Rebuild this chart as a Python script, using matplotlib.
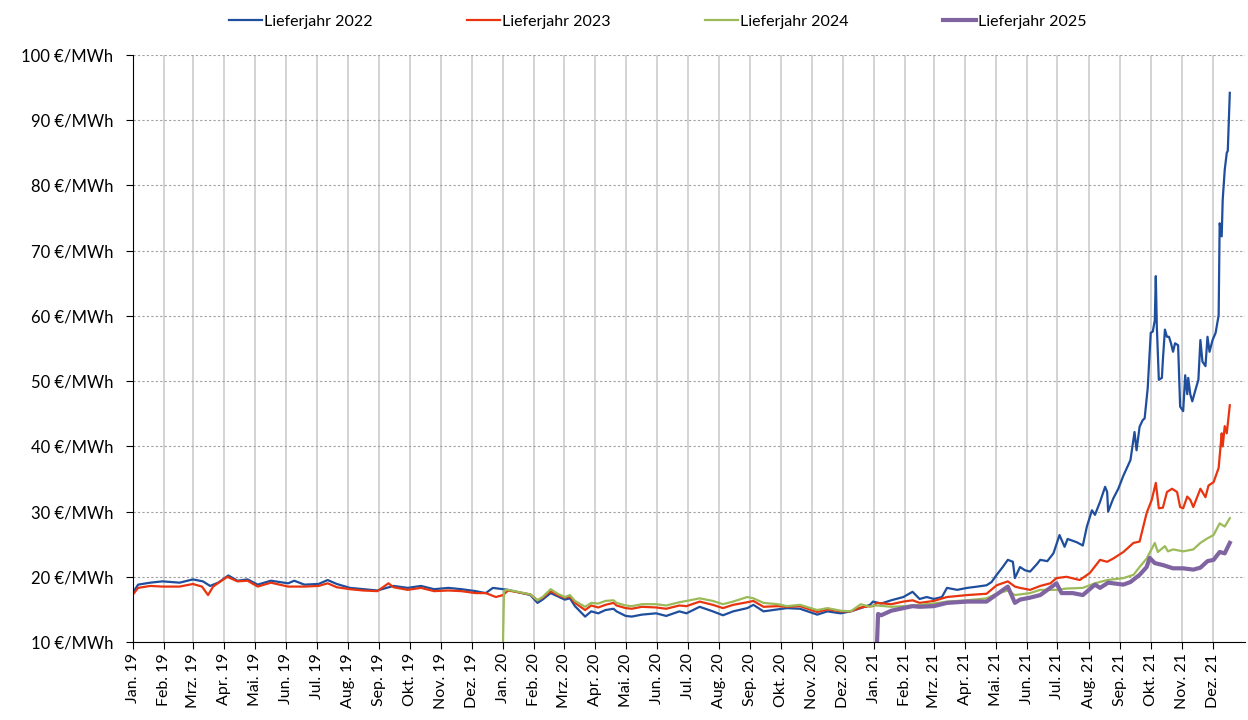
import matplotlib
matplotlib.use("Agg")
import matplotlib.pyplot as plt
import pandas as pd

# ---------------- data ----------------
dates_2022 = ["2019-01-01","2019-01-06","2019-01-18","2019-01-30","2019-02-16","2019-03-01","2019-03-11","2019-03-18","2019-03-26","2019-04-05",
              "2019-04-14","2019-04-24","2019-05-04","2019-05-17","2019-06-03","2019-06-09","2019-06-19","2019-07-03","2019-07-12","2019-07-21",
              "2019-08-03","2019-08-16","2019-08-30","2019-09-15","2019-09-29","2019-10-12","2019-10-25","2019-11-08","2019-11-21","2019-12-05",
              "2019-12-15","2019-12-22",
              "2020-01-06","2020-01-28","2020-02-04","2020-02-09","2020-02-17","2020-02-24","2020-03-02","2020-03-07","2020-03-12","2020-03-22",
              "2020-03-28","2020-04-04","2020-04-11","2020-04-19","2020-04-22","2020-05-01","2020-05-07","2020-05-17","2020-05-31","2020-06-10",
              "2020-06-23","2020-06-30","2020-07-13","2020-07-26","2020-08-05","2020-08-15","2020-08-29","2020-09-04","2020-09-14","2020-09-28",
              "2020-10-07","2020-10-20","2020-11-06","2020-11-16","2020-11-29","2020-12-09","2020-12-19","2020-12-28","2020-12-31",
              "2021-01-08","2021-01-18","2021-01-30","2021-02-08","2021-02-15","2021-02-22","2021-03-01","2021-03-09","2021-03-14","2021-03-24",
              "2021-04-03","2021-04-13","2021-04-22","2021-04-27","2021-05-02","2021-05-08","2021-05-13","2021-05-18","2021-05-20","2021-05-25",
              "2021-05-30","2021-06-04","2021-06-11","2021-06-14","2021-06-21","2021-06-27","2021-07-03","2021-07-08","2021-07-11","2021-07-20",
              "2021-07-26","2021-07-30","2021-08-04","2021-08-07","2021-08-12","2021-08-17","2021-08-19","2021-08-20","2021-08-25","2021-08-30",
              "2021-09-04","2021-09-11","2021-09-15","2021-09-17","2021-09-20","2021-09-23","2021-09-25","2021-09-28","2021-10-01","2021-10-03",
              "2021-10-05","2021-10-06","2021-10-07","2021-10-09","2021-10-12","2021-10-13","2021-10-15","2021-10-17","2021-10-19","2021-10-21",
              "2021-10-23","2021-10-25","2021-10-28","2021-10-30","2021-11-02","2021-11-04","2021-11-06","2021-11-07","2021-11-09","2021-11-11",
              "2021-11-14","2021-11-17","2021-11-19","2021-11-21","2021-11-24","2021-11-26","2021-11-28","2021-12-01","2021-12-04","2021-12-07",
              "2021-12-08","2021-12-10","2021-12-11","2021-12-13","2021-12-15","2021-12-16","2021-12-18"]
values_2022 = [17.6,18.8,19.1,19.3,19.1,19.6,19.3,18.6,19.1,20.2,
               19.4,19.6,18.8,19.4,19.0,19.4,18.8,18.9,19.5,18.9,
               18.3,18.1,17.9,18.6,18.3,18.6,18.1,18.3,18.1,17.8,
               17.5,18.3,
               18.0,17.2,16.0,16.5,17.5,17.0,16.5,16.7,15.5,13.9,
               14.7,14.4,14.9,15.1,14.7,14.0,13.9,14.2,14.4,14.0,
               14.7,14.4,15.4,14.7,14.1,14.7,15.2,15.7,14.7,15.0,
               15.2,15.1,14.2,14.7,14.4,14.7,15.2,15.7,16.2,
               15.9,16.4,16.9,17.7,16.6,16.9,16.6,16.9,18.3,18.0,
               18.3,18.5,18.7,19.2,20.3,21.5,22.6,22.3,19.8,21.5,
               21.0,20.8,22.0,22.6,22.4,23.6,26.4,24.6,25.8,25.3,
               24.8,27.7,30.2,29.5,31.5,33.8,33.0,30.0,32.0,33.5,
               35.5,37.9,42.2,39.4,43.0,44.0,44.3,48.9,57.4,57.6,
               59.3,66.1,58.4,50.2,50.5,53.3,57.9,56.8,56.8,55.8,
               54.5,55.8,55.5,46.1,45.4,50.9,48.0,50.5,48.0,46.9,
               48.6,50.2,56.3,53.0,52.3,56.8,54.5,56.3,57.4,60.1,
               74.2,72.2,77.8,82.4,85.0,85.3,94.2]

dates_2023 = ["2019-01-01","2019-01-06","2019-01-18","2019-01-30","2019-02-16","2019-03-01","2019-03-10","2019-03-16","2019-03-21","2019-04-04",
              "2019-04-14","2019-04-24","2019-05-04","2019-05-17","2019-06-03","2019-06-19","2019-07-03","2019-07-12","2019-07-21","2019-08-03",
              "2019-08-16","2019-08-30","2019-09-10","2019-09-15","2019-09-29","2019-10-12","2019-10-25","2019-11-08","2019-11-21","2019-12-05",
              "2019-12-15","2019-12-25",
              "2020-01-01","2020-01-06","2020-01-28","2020-02-04","2020-02-09","2020-02-17","2020-02-24","2020-03-02","2020-03-07","2020-03-12",
              "2020-03-22","2020-03-28","2020-04-04","2020-04-11","2020-04-19","2020-04-22","2020-05-01","2020-05-07","2020-05-17","2020-05-31",
              "2020-06-10","2020-06-23","2020-06-30","2020-07-13","2020-07-26","2020-08-05","2020-08-15","2020-08-29","2020-09-04","2020-09-14",
              "2020-09-28","2020-10-07","2020-10-20","2020-11-06","2020-11-16","2020-11-29","2020-12-09","2020-12-19","2020-12-28","2020-12-31",
              "2021-01-04","2021-01-18","2021-01-30","2021-02-08","2021-02-15","2021-03-01","2021-03-14","2021-04-03","2021-04-22","2021-05-02",
              "2021-05-13","2021-05-20","2021-05-25","2021-06-04","2021-06-14","2021-06-24","2021-06-30","2021-07-10","2021-07-23","2021-08-02",
              "2021-08-12","2021-08-19","2021-08-25","2021-09-04","2021-09-14","2021-09-20","2021-09-27","2021-10-02","2021-10-06","2021-10-09",
              "2021-10-13","2021-10-17","2021-10-22","2021-10-27","2021-10-30","2021-11-02","2021-11-06","2021-11-09","2021-11-12","2021-11-19",
              "2021-11-24","2021-11-27","2021-12-02","2021-12-07","2021-12-10","2021-12-11","2021-12-13","2021-12-15","2021-12-18"]
values_2023 = [17.3,18.3,18.6,18.5,18.5,18.9,18.5,17.2,18.5,20.0,
               19.3,19.4,18.5,19.1,18.5,18.5,18.6,19.0,18.4,18.1,
               17.9,17.8,19.0,18.4,18.0,18.3,17.8,17.9,17.8,17.5,
               17.5,16.9,
               17.2,17.9,17.3,16.4,16.8,17.8,17.2,16.8,17.0,16.0,
               14.9,15.6,15.3,15.7,16.0,15.6,15.2,15.1,15.4,15.3,
               15.1,15.6,15.5,16.2,15.7,15.2,15.7,16.1,16.3,15.4,
               15.5,15.4,15.5,14.6,15.0,14.7,14.7,15.3,15.5,15.5,
               16.0,15.8,16.2,16.4,16.0,16.3,16.9,17.2,17.4,18.7,
               19.3,18.5,18.3,18.0,18.6,19.0,19.8,20.0,19.5,20.6,
               22.6,22.3,22.8,23.8,25.2,25.4,29.8,31.8,34.4,30.5,
               30.6,33.0,33.5,33.0,30.7,30.5,32.3,31.8,30.7,33.5,
               32.2,34.0,34.5,36.7,42.0,40.0,43.1,42.0,46.3]

dates_2024 = ["2020-01-01","2020-01-02","2020-01-06","2020-01-28","2020-02-04","2020-02-09","2020-02-17","2020-02-24","2020-03-02","2020-03-07",
              "2020-03-12","2020-03-22","2020-03-28","2020-04-04","2020-04-11","2020-04-19","2020-04-22","2020-05-01","2020-05-07","2020-05-17",
              "2020-05-31","2020-06-10","2020-06-23","2020-06-30","2020-07-13","2020-07-26","2020-08-05","2020-08-15","2020-08-29","2020-09-04",
              "2020-09-14","2020-09-28","2020-10-07","2020-10-20","2020-11-06","2020-11-16","2020-11-29","2020-12-09","2020-12-19","2020-12-28",
              "2020-12-31",
              "2021-01-04","2021-01-18","2021-01-30","2021-02-08","2021-03-01","2021-03-14","2021-04-03","2021-04-22","2021-05-02","2021-05-13",
              "2021-05-20","2021-06-04","2021-06-14","2021-06-30","2021-07-10","2021-07-26","2021-08-07","2021-08-19","2021-09-04","2021-09-14",
              "2021-09-20","2021-09-27","2021-10-05","2021-10-08","2021-10-15","2021-10-18","2021-10-23","2021-11-02","2021-11-12","2021-11-19",
              "2021-11-26","2021-12-02","2021-12-08","2021-12-13","2021-12-18"]
values_2024 = [10.0,17.9,18.0,17.3,16.4,16.9,18.1,17.4,16.9,17.2,
               16.3,15.4,16.0,15.9,16.3,16.4,16.0,15.6,15.5,15.8,
               15.8,15.6,16.1,16.3,16.7,16.3,15.8,16.2,16.9,16.7,
               16.0,15.8,15.5,15.7,14.9,15.2,14.8,14.7,15.8,15.4,
               15.6,
               15.6,15.4,15.5,15.6,15.9,16.2,16.4,16.7,17.4,17.9,
               17.2,17.5,18.0,18.0,18.2,18.3,19.0,19.5,19.8,20.3,
               21.5,22.8,25.2,23.8,24.7,23.9,24.2,23.9,24.2,25.2,
               25.9,26.4,28.2,27.7,29.0]

dates_2025 = ["2021-01-04","2021-01-05","2021-01-08","2021-01-18","2021-01-30","2021-02-08","2021-02-15","2021-03-01","2021-03-14","2021-04-03",
              "2021-04-22","2021-05-02","2021-05-13","2021-05-20","2021-05-25","2021-06-04","2021-06-14","2021-06-30","2021-07-05","2021-07-16",
              "2021-07-26","2021-08-07","2021-08-12","2021-08-20","2021-09-04","2021-09-11","2021-09-20","2021-09-27","2021-09-30","2021-10-05",
              "2021-10-13","2021-10-23","2021-11-02","2021-11-12","2021-11-19","2021-11-26","2021-12-02","2021-12-08","2021-12-13","2021-12-18"]
values_2025 = [10.0,14.3,14.1,14.8,15.2,15.5,15.4,15.5,16.0,16.2,
               16.2,17.3,18.5,16.0,16.5,16.8,17.2,19.0,17.5,17.5,
               17.2,18.8,18.3,19.1,18.8,19.2,20.3,21.5,22.9,22.1,
               21.8,21.3,21.3,21.1,21.4,22.4,22.6,23.8,23.6,25.2]

series_labels = ["Lieferjahr 2022", "Lieferjahr 2023", "Lieferjahr 2024", "Lieferjahr 2025"]
month_names = ["Jan.", "Feb.", "Mrz.", "Apr.", "Mai.", "Jun.", "Jul.", "Aug.", "Sep.", "Okt.", "Nov.", "Dez."]
years = ["19", "20", "21"]
y_ticks = [10, 20, 30, 40, 50, 60, 70, 80, 90, 100]

# ---------------- plot ----------------
plt.rcParams['font.family'] = ['Lato', 'DejaVu Sans']

fig = plt.figure(figsize=(12.48, 7.2), dpi=100)
ax = fig.add_axes([0.1066, 0.1083, 0.8910, 0.8153])

colors = ["#1F4E9C", "#E8340F", "#9BBB59", "#8064A2"]
widths = [1.6, 1.6, 1.6, 3.0]
all_dates = [dates_2022, dates_2023, dates_2024, dates_2025]
all_vals = [values_2022, values_2023, values_2024, values_2025]
for d, v, c, w, lab in zip(all_dates, all_vals, colors, widths, series_labels):
    ax.plot(pd.to_datetime(d), v, color=c, lw=w, label=lab, solid_joinstyle='round')

# axes
ax.set_ylim(10, 100)
ax.set_yticks(y_ticks)
ax.set_yticklabels([f"{t} €/MWh" for t in y_ticks], fontsize=12)

month_starts = pd.date_range("2019-01-01", "2021-12-01", freq="MS")
ax.set_xticks(month_starts)
ax.set_xticklabels([f"{month_names[i % 12]} {years[i // 12]}" for i in range(len(month_starts))],
                   rotation=90, fontsize=11.5)
ax.set_xlim(pd.Timestamp("2019-01-01"), pd.Timestamp("2022-01-02"))

ax.grid(axis='x', color='#CCCCCC', lw=1.2, ls='-')
ax.grid(axis='y', color='#A0A0A0', lw=0.8, ls=(0, (2, 2)))
ax.set_axisbelow(True)
for s in ['top', 'right']:
    ax.spines[s].set_visible(False)
ax.spines['left'].set_color('black')
ax.spines['bottom'].set_color('black')
ax.tick_params(axis='y', direction='out', length=5, color='black', pad=9)
ax.tick_params(axis='x', direction='out', length=5, color='black', pad=3)

fig.legend(loc='upper center', bbox_to_anchor=(0.527, 1.0), ncol=4, frameon=False,
           fontsize=11.5, handlelength=2.1, columnspacing=5.9, handletextpad=0.1)

fig.savefig("out.png", dpi=100)
